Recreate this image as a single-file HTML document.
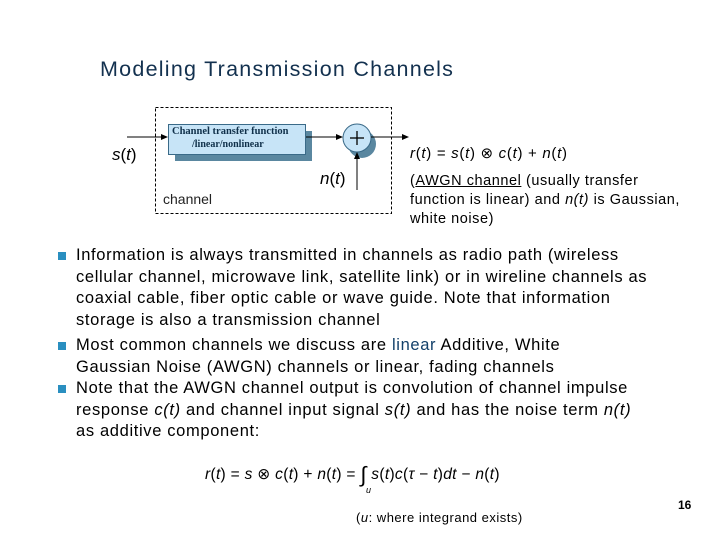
<!DOCTYPE html>
<html><head><meta charset="utf-8"><style>
body{margin:0;width:720px;height:540px;background:#fff;position:relative;overflow:hidden;font-family:"Liberation Sans",Arial,sans-serif;color:#000}
.a{position:absolute;white-space:nowrap}
.t{font-size:16.5px;line-height:21.5px;letter-spacing:0.65px}
.b{position:absolute;width:8px;height:8px;background:#2a8fc0;left:58px}
i{font-style:italic}
</style></head><body>
<div class="a" style="left:100px;top:57px;font-size:21.5px;color:#13314f;letter-spacing:1.25px">Modeling Transmission Channels</div>

<svg class="a" style="left:0;top:0" width="720" height="540">
<rect x="155.5" y="107.5" width="236" height="106" fill="none" stroke="#000" stroke-dasharray="3,2"/>
<rect x="175" y="131" width="137" height="30" fill="#5a87a0"/>
<rect x="168.5" y="124.5" width="137" height="30" fill="#c7e4f7" stroke="#3a6a88"/>
<circle cx="362" cy="144" r="14" fill="#5a87a0"/>
<circle cx="357" cy="138" r="14" fill="#c7e4f7" stroke="#3a6a88"/>
<line x1="350" y1="138" x2="364" y2="138" stroke="#000" stroke-width="1.3"/>
<line x1="357" y1="131" x2="357" y2="145" stroke="#000" stroke-width="1.3"/>
<line x1="127" y1="137" x2="164" y2="137" stroke="#000"/>
<polygon points="168,137 161,134 161,140" fill="#000"/>
<line x1="306" y1="137" x2="338" y2="137" stroke="#000"/>
<polygon points="343,137 336,134 336,140" fill="#000"/>
<line x1="371" y1="137" x2="403" y2="137" stroke="#000"/>
<polygon points="409,137 402,134 402,140" fill="#000"/>
<line x1="357" y1="190" x2="357" y2="157" stroke="#000"/>
<polygon points="357,152 354,159 360,159" fill="#000"/>
</svg>
<div class="a" style="left:172px;top:126px;font-family:'Liberation Serif',serif;font-weight:bold;font-size:10.5px;color:#10304a">Channel transfer function</div>
<div class="a" style="left:192px;top:139px;font-family:'Liberation Serif',serif;font-weight:bold;font-size:10px;color:#10304a">/linear/nonlinear</div>
<div class="a" style="left:112px;top:145px;font-size:17px"><i>s</i>(<i>t</i>)</div>
<div class="a" style="left:320px;top:169px;font-size:17px"><i>n</i>(<i>t</i>)</div>
<div class="a" style="left:163px;top:191px;font-size:14px;color:#222">channel</div>

<div class="a" style="left:410px;top:144px;font-size:15px;letter-spacing:0.7px"><i>r</i>(<i>t</i>) = <i>s</i>(<i>t</i>) ⊗ <i>c</i>(<i>t</i>) + <i>n</i>(<i>t</i>)</div>
<div class="a" style="left:410px;top:172px;font-size:14.5px;line-height:19px;letter-spacing:0.55px">(<u>AWGN channel</u> (usually transfer<br>function is linear) and <i>n(t)</i> is Gaussian,<br>white noise)</div>

<div class="b" style="top:252px"></div>
<div class="b" style="top:342px"></div>
<div class="b" style="top:385px"></div>
<div class="a t" style="left:76px;top:245px">Information is always transmitted in channels as radio path (wireless<br>cellular channel, microwave link, satellite link) or in wireline channels as<br>coaxial cable, fiber optic cable or wave guide. Note that information<br>storage is also a transmission channel</div>
<div class="a t" style="left:76px;top:335px">Most common channels we discuss are <span style="color:#13406a">linear</span> Additive, White<br>Gaussian Noise (AWGN) channels or linear, fading channels</div>
<div class="a t" style="left:76px;top:378px">Note that the AWGN channel output is convolution of channel impulse<br>response <i>c(t)</i> and channel input signal <i>s(t)</i> and has the noise term <i>n(t)</i><br>as additive component:</div>

<div class="a" style="left:205px;top:459px;font-size:15.5px;letter-spacing:0.3px"><i>r</i>(<i>t</i>) = <i>s</i> ⊗ <i>c</i>(<i>t</i>) + <i>n</i>(<i>t</i>) = <span style="font-size:22px;position:relative;top:3px">∫</span> <i>s</i>(<i>t</i>)<i>c</i>(<i>τ</i> − <i>t</i>)<i>dt</i> − <i>n</i>(<i>t</i>)</div>
<div class="a" style="left:366px;top:485px;font-size:9px"><i>u</i></div>
<div class="a" style="left:356px;top:510px;font-size:13px;letter-spacing:0.5px">(<i>u</i>: where integrand exists)</div>
<div class="a" style="left:678px;top:498px;font-size:12px;font-weight:bold">16</div>
</body></html>
